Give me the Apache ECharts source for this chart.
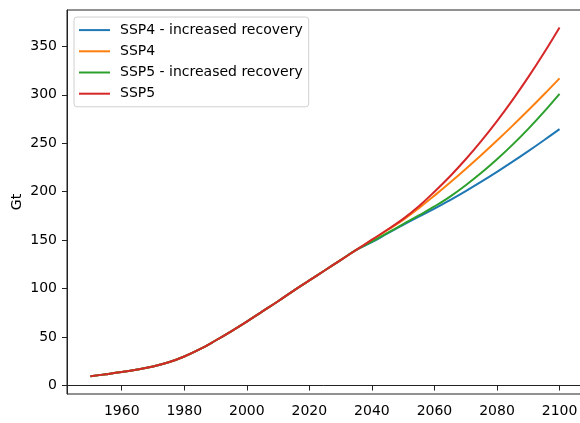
<!DOCTYPE html>
<html>
<head>
<meta charset="utf-8">
<script src="https://cdn.jsdelivr.net/npm/echarts@6/dist/echarts.min.js"></script>
<style>html,body{margin:0;padding:0;background:#fff}#c{width:580px;height:423px}</style>
</head>
<body>
<div id="c"></div>
<script>
const years = [1950,1955,1960,1965,1970,1975,1980,1985,1990,1995,2000,2005,2010,2015,2020,2025,2030,2035,2040,2045,2050,2055,2060,2065,2070,2075,2080,2085,2090,2095,2100];
const common = [9.7,11.7,13.9,16.5,19.7,24,30,37.5,46.5,56,66,76.5,87,98,108.5,119,129.5,140];
const ssp4Rec = common.concat([148,157,165.8,174.3,182.5,191.4,200.7,210.4,220.5,231,241.9,253.1,264.6]);
const ssp4    = common.concat([150,160.5,171,183,196,209.5,223.5,237.9,252.8,268.2,284,300.3,317]);
const ssp5Rec = common.concat([148.5,157.5,166.5,175.5,184.8,195,206.7,219.5,233.5,248.6,264.9,282.4,301]);
const ssp5    = common.concat([150.5,161,172,185,200,216,233.5,252.5,272.9,294.8,318.2,343.1,369.5]);
const seriesNames = ['SSP4 - increased recovery','SSP4','SSP5 - increased recovery','SSP5'];
const colors = ['#1f77b4','#ff7f0e','#2ca02c','#d62728'];
const xTicks = [1960,1980,2000,2020,2040,2060,2080,2100];
const yTicks = [0,50,100,150,200,250,300,350];

const all = [ssp4Rec, ssp4, ssp5Rec, ssp5];
const chart = echarts.init(document.getElementById('c'), null, {renderer:'canvas'});
const font = 'DejaVu Sans';
chart.setOption({
  animation:false,
  textStyle:{fontFamily:font},
  grid:{left:67,top:10,right:-3,bottom:29,outerBoundsMode:'none',containLabel:false,show:true,borderColor:'#222',borderWidth:1,backgroundColor:'transparent'},
  legend:{
    orient:'vertical', left:74, top:17,
    data:seriesNames,
    icon:'rect', itemWidth:31, itemHeight:2, itemGap:5,
    padding:[5,6,5,5],
    backgroundColor:'rgba(255,255,255,0.8)',
    borderColor:'#d0d0d0', borderWidth:1, borderRadius:3,
    textStyle:{fontFamily:font,fontSize:14,color:'#000',lineHeight:16.2,padding:[0,0,0,5]}
  },
  xAxis:{
    type:'value', min:1942.5, max:2107.5,
    splitLine:{show:false},
    axisLine:{show:true,lineStyle:{color:'#222',width:1}},
    axisTick:{show:true,length:5,customValues:xTicks,lineStyle:{color:'#222'}},
    axisLabel:{customValues:xTicks,formatter:v=>String(v),fontFamily:font,fontSize:14,color:'#000',margin:10}
  },
  yAxis:{
    type:'value', min:-8.7, max:387.5,
    name:'Gt', nameLocation:'middle', nameGap:43, nameRotate:90, nameMoveOverlap:false,
    nameTextStyle:{fontFamily:font,fontSize:14,color:'#000'},
    splitLine:{show:false},
    axisLine:{show:true,lineStyle:{color:'#222',width:1}},
    axisTick:{show:true,length:5,customValues:yTicks,lineStyle:{color:'#222'}},
    axisLabel:{customValues:yTicks,formatter:v=>String(v),fontFamily:font,fontSize:14,color:'#000',margin:10}
  },
  series: all.map((vals,i)=>({
    name:seriesNames[i], type:'line', smooth:0.4, showSymbol:false, symbol:'none',
    data: years.map((y,j)=>[y,vals[j]]),
    lineStyle:{color:colors[i],width:2}, itemStyle:{color:colors[i]}, z:2+i
  }))
});
</script>
</body>
</html>
